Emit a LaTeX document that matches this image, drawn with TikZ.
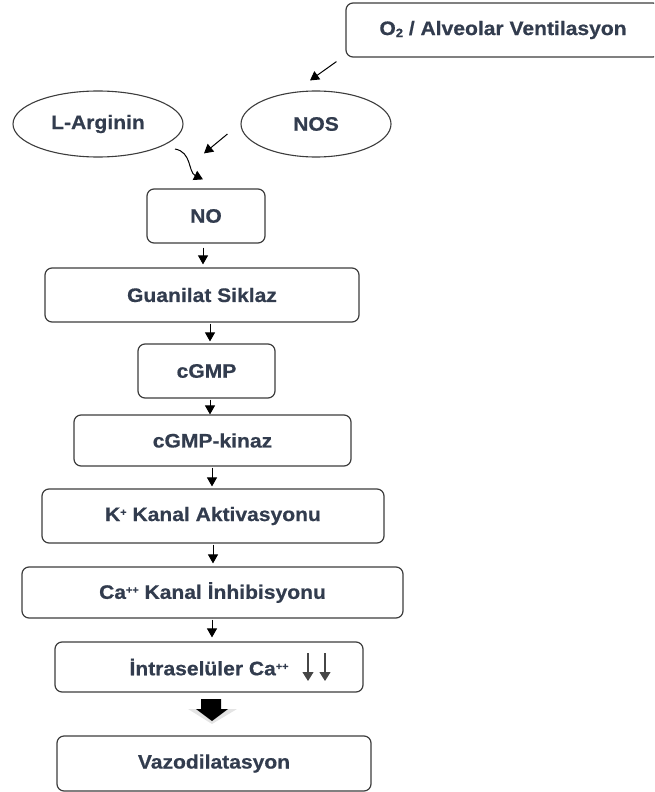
\documentclass[tikz,border=0pt]{standalone}
\usepackage{fontspec}
\newfontfamily\labfont{Liberation Sans}[FakeStretch=1.08]
\newfontfamily\labfontb{Liberation Sans Bold}[FakeStretch=1.08,FakeBold=0.6]
\usetikzlibrary{arrows.meta,shapes.geometric}
\definecolor{txt}{RGB}{50,60,78}
\definecolor{edgec}{RGB}{60,60,60}
\definecolor{darrc}{RGB}{70,70,70}
\newcommand{\sps}[1]{\raisebox{5.5pt}{\fontsize{10}{10}\selectfont #1}}
\begin{document}
\begin{tikzpicture}[x=1pt,y=-1pt,
  lab/.style={text=txt, font=\labfontb\fontsize{19.5}{22}\selectfont},
  box/.style={lab, draw=edgec, line width=1.2pt, rounded corners=7pt, inner sep=0pt},
  oval/.style={lab, ellipse, draw=edgec, line width=1.1pt, inner sep=0pt},
  arr/.style={-{Triangle[length=9pt,width=10pt]}, line width=1pt, black},
  darr/.style={-{Triangle[length=9pt,width=11pt]}, line width=1.1pt, darrc}]
\useasboundingbox (0,0) rectangle (654,792);
\clip (0,0) rectangle (654,792);

\node[box, minimum width=314pt, minimum height=54pt] (o2) at (503,30) {O\raisebox{-2pt}{\fontsize{12}{12}\selectfont 2} / Alveolar Ventilasyon};
\node[oval, minimum width=170pt, minimum height=66pt] (larg) at (98,124) {L-Arginin};
\node[oval, minimum width=150pt, minimum height=66pt] (nos) at (316,124) {NOS};
\node[box, minimum width=118pt, minimum height=54pt] (no) at (206,216) {NO};
\node[box, minimum width=314pt, minimum height=54pt] (gs) at (202,295) {Guanilat Siklaz};
\node[box, minimum width=137pt, minimum height=54pt] (cgmp) at (206.5,371) {cGMP};
\node[box, minimum width=277pt, minimum height=51pt] (kin) at (212.5,440.5) {cGMP-kinaz};
\node[box, minimum width=342pt, minimum height=54pt] (kch) at (213,516) {K\sps{+} Kanal Aktivasyonu};
\node[box, minimum width=381pt, minimum height=51pt] (cach) at (212.5,592.5) {Ca\sps{++} Kanal İnhibisyonu};
\node[box, minimum width=308pt, minimum height=50pt] (intra) at (209,667) {İntraselüler Ca\sps{++}};
\node[box, minimum width=314pt, minimum height=55pt] (vazo) at (214,763.5) {Vazodilatasyon};

% connectors
\draw[arr] ([shift={(-9,4)}]o2.south west) -- ([shift={(-6,-10)}]nos.north);
\draw[arr] ([shift={(-13,10)}]nos.west) -- ([shift={(-2,-35)}]no.north);
\draw[arr] ([shift={(77,25)}]larg.center) .. controls ([shift={(94,28)}]larg.center) and ([shift={(90,48)}]larg.center) .. ([shift={(-3,-9)}]no.north);
\draw[arr] ([shift={(-3,4)}]no.south) -- ([shift={(1,-3)}]gs.north);
\draw[arr] ([shift={(8,1)}]gs.south) -- ([shift={(3.5,-2)}]cgmp.north);
\draw[arr] ([shift={(3.5,1)}]cgmp.south) -- ([shift={(3.5,0)}]cgmp.south |- kin.north);
\draw[arr] ([shift={(-0.5,1)}]kin.south) -- ([shift={(-1,-2)}]kch.north);
\draw[arr] ([shift={(0,1)}]kch.south) -- ([shift={(0.5,-3)}]cach.north);
\draw[arr] ([shift={(-0.5,1)}]cach.south) -- ([shift={(3,-4)}]intra.north);

% down arrows inside the box
\draw[darr] ([shift={(99,-14)}]intra.center) -- ([shift={(99,14)}]intra.center);
\draw[darr] ([shift={(116,-14)}]intra.center) -- ([shift={(116,14)}]intra.center);

% block arrow
\fill[black!30, opacity=0.35] (188,709) -- (237,709) -- (212,724) -- cycle;
\fill[black] (201,699) -- (221,699) -- (221,709) -- (228,709) -- (212,721) -- (196,709) -- (201,709) -- cycle;
\end{tikzpicture}
\end{document}
